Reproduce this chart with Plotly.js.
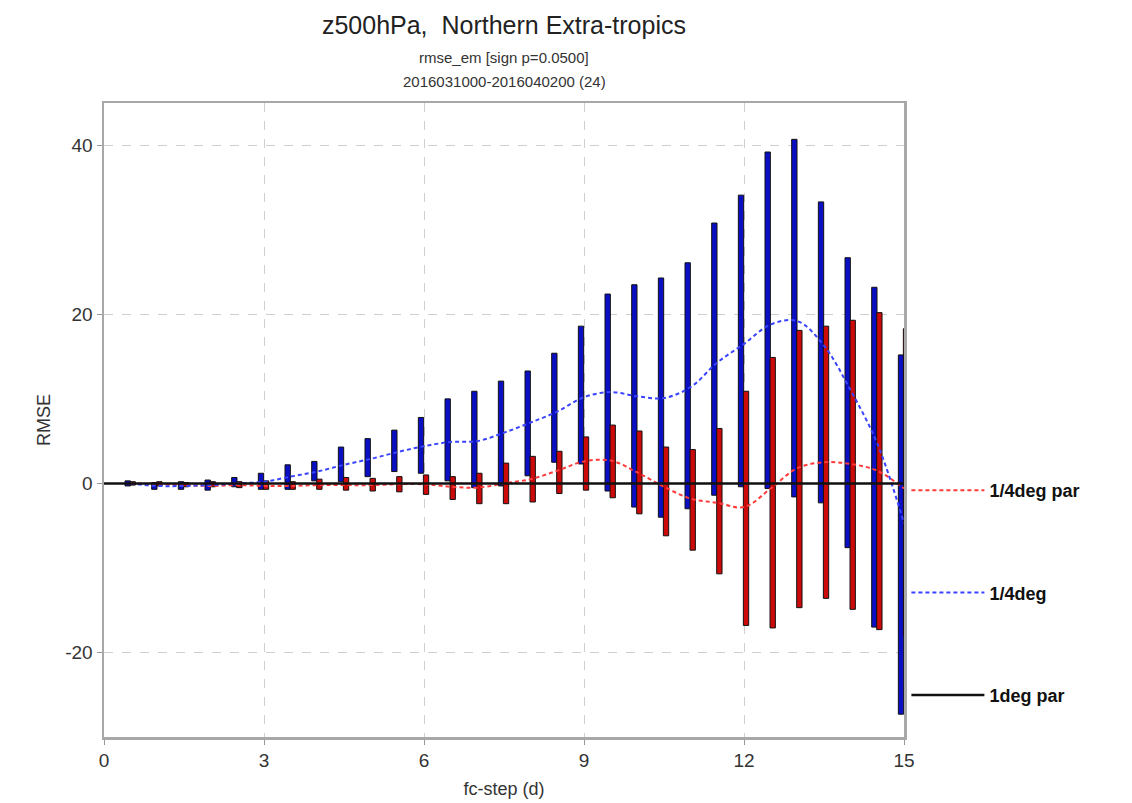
<!DOCTYPE html>
<html>
<head>
<meta charset="utf-8">
<script src="https://cdn.plot.ly/plotly-3.0.1.min.js"></script>
<style>html,body{margin:0;padding:0;background:#fff;}#chart{width:1132px;height:803px;}</style>
</head>
<body>
<div id="chart"></div>
<script>
// forecast steps (days)
const steps = [0.5,1,1.5,2,2.5,3,3.5,4,4.5,5,5.5,6,6.5,7,7.5,8,8.5,9,9.5,10,10.5,11,11.5,12,12.5,13,13.5,14,14.5,15];
const parSteps = [0,0.5,1,1.5,2,2.5,3,3.5,4,4.5,5,5.5,6,6.5,7,7.5,8,8.5,9,9.5,10,10.5,11,11.5,12,12.5,13,13.5,14,14.5,15];

// mean RMSE difference lines
const qdegPar = [0,-0.1,-0.2,-0.3,-0.2,-0.3,-0.3,-0.2,-0.2,-0.2,-0.1,-0.1,-0.4,-0.5,0.0,0.5,1.5,2.6,2.7,1.3,-0.4,-1.8,-2.3,-2.8,-0.6,1.8,2.5,2.3,1.5,-0.6];
const qdeg = [0,-0.3,-0.3,-0.2,0.0,0.2,0.8,1.4,2.2,2.9,3.7,4.4,4.9,5.0,6.0,7.2,8.5,10.2,10.8,10.3,10.1,11.4,14.3,16.5,18.8,19.2,16.3,11.0,4.7,-4.7];
const onedegPar = [0,0,0,0,0,0,0,0,0,0,0,0,0,0,0,0,0,0,0,0,0,0,0,0,0,0,0,0,0,0,0];

// significance ranges (low / high) for 1/4deg (blue)
const qdegLow  = [-0.3,-0.7,-0.7,-0.8,-0.4,-0.7,-0.7,0.3,0.2,0.8,1.4,1.2,0.3,-0.5,-0.3,0.9,2.5,2.3,-0.9,-2.8,-4.0,-3.0,-1.4,-0.4,-0.6,-1.6,-2.3,-7.6,-17.0,-27.3];
const qdegHigh = [0.3,0.1,0.2,0.4,0.7,1.2,2.2,2.6,4.3,5.3,6.3,7.8,10.0,10.9,12.1,13.3,15.4,18.6,22.4,23.5,24.3,26.1,30.8,34.1,39.2,40.7,33.3,26.7,23.2,15.2];
// significance ranges (low / high) for 1/4deg par (red)
const parLow  = [-0.2,-0.3,-0.4,-0.4,-0.5,-0.7,-0.7,-0.7,-0.8,-0.9,-1.0,-1.3,-1.9,-2.4,-2.4,-2.2,-1.2,-0.8,-1.7,-3.6,-6.2,-7.9,-10.7,-16.8,-17.1,-14.7,-13.6,-14.9,-17.3,-18.0];
const parHigh = [0.2,0.2,0.1,0.2,0.2,0.3,0.2,0.5,0.7,0.6,0.8,1.0,0.8,1.2,2.4,3.2,3.8,5.5,6.9,6.2,4.3,4.0,6.5,10.9,14.9,18.1,18.6,19.3,20.2,18.3];

const xTicks = [0,3,6,9,12,15];
const yTicks = [-20,0,20,40];

const FONT = 'Liberation Sans, Arial, Helvetica, sans-serif';

const traces = [
  {
    type: 'bar', x: steps, base: qdegLow,
    y: qdegHigh.map((h, i) => h - qdegLow[i]),
    width: 0.1, offset: -0.106,
    marker: {color: '#0a0fc4', line: {color: '#111', width: 1}},
    showlegend: false, hoverinfo: 'skip'
  },
  {
    type: 'bar', x: steps, base: parLow,
    y: parHigh.map((h, i) => h - parLow[i]),
    width: 0.1, offset: -0.012,
    marker: {color: '#cc0a0a', line: {color: '#111', width: 1}},
    showlegend: false, hoverinfo: 'skip'
  },
  {
    type: 'scatter', mode: 'lines', x: steps, y: qdegPar, name: '1/4deg par',
    line: {color: '#ff3b3b', width: 2, dash: '4px,3px', shape: 'spline', smoothing: 1},
    legendgroup: 'a'
  },
  {
    type: 'scatter', mode: 'lines', x: steps, y: qdeg, name: '1/4deg',
    line: {color: '#3a44ff', width: 2, dash: '4px,3px', shape: 'spline', smoothing: 1},
    legendgroup: 'b'
  },
  {
    type: 'scatter', mode: 'lines', x: parSteps, y: onedegPar, name: '1deg par',
    line: {color: '#111', width: 2.5}, legendgroup: 'c'
  }
];

const layout = {
  width: 1132, height: 803,
  paper_bgcolor: '#fff', plot_bgcolor: '#fff',
  margin: {l: 104, r: 228, t: 103, b: 66},
  barmode: 'overlay',
  font: {family: FONT, color: '#333'},
  title: {
    text: 'z500hPa,  Northern Extra-tropics',
    font: {family: FONT, size: 25, color: '#222'},
    x: 0.4452, xanchor: 'center', y: 0.968, yanchor: 'middle'
  },
  annotations: [
    {text: 'rmse_em [sign p=0.0500]', xref: 'paper', yref: 'paper', x: 0.5, y: 1.0 + (103 - 57) / 634,
     xanchor: 'center', yanchor: 'middle', showarrow: false, font: {family: FONT, size: 15, color: '#333'}},
    {text: '2016031000-2016040200 (24)', xref: 'paper', yref: 'paper', x: 0.5, y: 1.0 + (103 - 82) / 634,
     xanchor: 'center', yanchor: 'middle', showarrow: false, font: {family: FONT, size: 15, color: '#333'}}
  ],
  xaxis: {
    range: [0, 15], tickvals: xTicks, ticktext: xTicks.map(String),
    showgrid: true, gridcolor: '#cfcfcf', griddash: 'dash', gridwidth: 1,
    zeroline: false, showline: true, linecolor: '#a8a8a8', linewidth: 2.5, mirror: true,
    ticks: 'outside', ticklen: 5, tickcolor: '#999', tickwidth: 1,
    tickfont: {family: FONT, size: 19, color: '#333'},
    title: {text: 'fc-step (d)', font: {family: FONT, size: 18, color: '#333'}, standoff: 12}
  },
  yaxis: {
    range: [-30, 45], tickvals: yTicks, ticktext: yTicks.map(String),
    showgrid: true, gridcolor: '#cfcfcf', griddash: 'dash', gridwidth: 1,
    zeroline: false, showline: true, linecolor: '#a8a8a8', linewidth: 2.5, mirror: true,
    ticks: 'outside', ticklen: 5, tickcolor: '#999', tickwidth: 1,
    tickfont: {family: FONT, size: 19, color: '#333'},
    title: {text: 'RMSE', font: {family: FONT, size: 18, color: '#333'}, standoff: 10}
  },
  legend: {
    x: 1.003, xanchor: 'left', y: 0.418, yanchor: 'top',
    tracegroupgap: 76, traceorder: 'grouped',
    font: {family: FONT, size: 18, color: '#111', weight: 'bold'},
    bgcolor: 'rgba(0,0,0,0)', itemwidth: 73
  },
  showlegend: true
};

Plotly.newPlot('chart', traces, layout, {displayModeBar: false, staticPlot: true});
</script>
</body>
</html>
